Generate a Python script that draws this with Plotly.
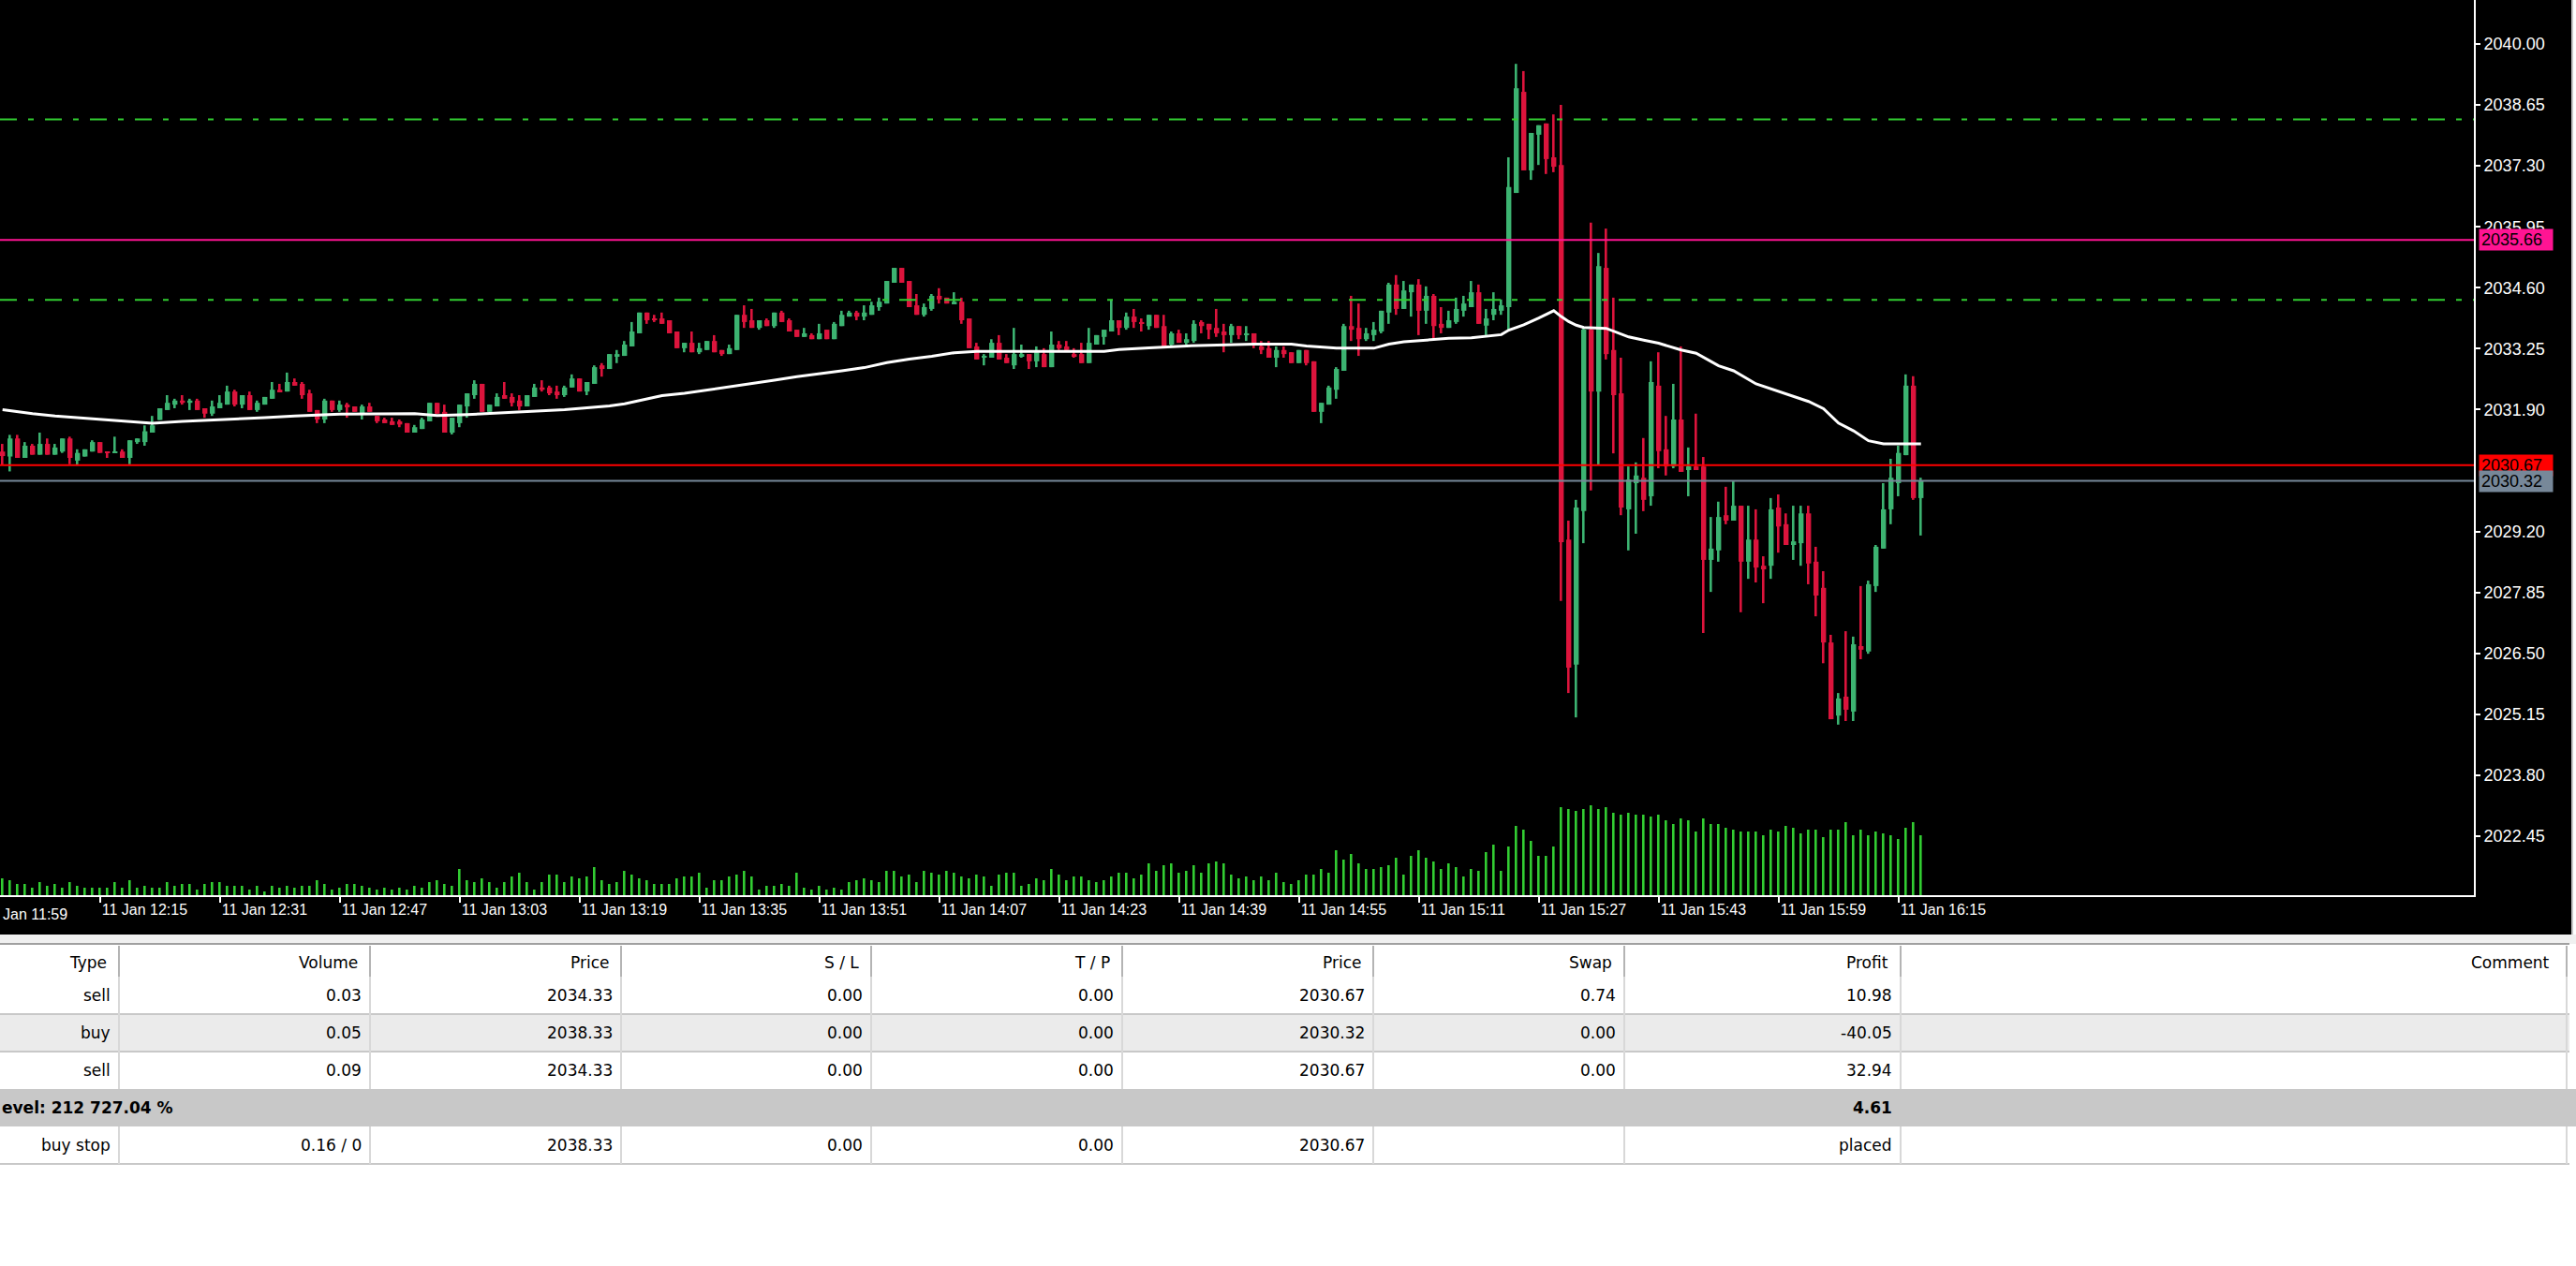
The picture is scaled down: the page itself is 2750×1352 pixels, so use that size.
import plotly.graph_objects as go
import pandas as pd

# ---------------- data ----------------
start_time = "2024-01-11 12:02"   # first visible M1 bar

opens = [
2030.97, 2030.86, 2031.26, 2030.83, 2031.10, 2030.90, 2031.14, 2030.90, 2030.97, 2031.26,
2030.77, 2030.86, 2030.97, 2031.18, 2030.97, 2030.94, 2030.97, 2030.83, 2031.18, 2031.18,
2031.39, 2031.67, 2031.89, 2032.01, 2032.10, 2032.05, 2032.10, 2031.93, 2031.81, 2031.93,
2032.01, 2032.30, 2032.01, 2032.22, 2031.89, 2032.01, 2032.14, 2032.34, 2032.30, 2032.51,
2032.47, 2032.26, 2031.89, 2031.68, 2032.10, 2031.89, 2032.01, 2031.97, 2031.81, 2031.97,
2031.76, 2031.68, 2031.64, 2031.64, 2031.60, 2031.39, 2031.47, 2031.64, 2032.05, 2031.85,
2031.39, 2031.60, 2031.97, 2032.22, 2032.47, 2031.85, 2031.97, 2032.22, 2032.18, 2032.10,
2031.97, 2032.18, 2032.39, 2032.39, 2032.30, 2032.22, 2032.39, 2032.59, 2032.30, 2032.47,
2032.88, 2032.80, 2033.09, 2033.09, 2033.30, 2033.59, 2034.05, 2033.92, 2033.92, 2033.88,
2033.63, 2033.26, 2033.38, 2033.17, 2033.22, 2033.42, 2033.22, 2033.13, 2033.22, 2034.00,
2033.88, 2033.71, 2033.88, 2033.75, 2034.05, 2033.88, 2033.67, 2033.51, 2033.55, 2033.46,
2033.67, 2033.46, 2033.75, 2033.96, 2034.05, 2033.96, 2034.00, 2034.17, 2034.25, 2034.71,
2035.04, 2034.75, 2034.21, 2034.00, 2034.13, 2034.42, 2034.38, 2034.25, 2034.29, 2033.92,
2033.30, 2033.05, 2033.05, 2033.38, 2033.05, 2032.88, 2033.09, 2033.13, 2032.97, 2033.13,
2032.84, 2033.34, 2033.30, 2033.13, 2033.13, 2032.93, 2033.34, 2033.51, 2033.63, 2033.88,
2033.71, 2033.96, 2033.84, 2033.75, 2034.00, 2033.75, 2033.34, 2033.59, 2033.38, 2033.42,
2033.84, 2033.80, 2033.71, 2033.63, 2033.55, 2033.75, 2033.55, 2033.59, 2033.30, 2033.26,
2033.05, 2033.22, 2033.17, 2032.93, 2033.22, 2032.97, 2031.85, 2032.01, 2032.34, 2032.76,
2033.75, 2033.71, 2033.46, 2033.55, 2033.63, 2034.05, 2034.67, 2034.13, 2034.50, 2034.67,
2034.09, 2034.42, 2033.80, 2033.71, 2033.84, 2034.09, 2034.17, 2034.50, 2033.76, 2034.00,
2034.09, 2034.17, 2036.70, 2038.94, 2037.20, 2037.99, 2038.24, 2037.49, 2037.32, 2029.02,
2026.25, 2029.65, 2033.67, 2032.30, 2035.04, 2033.22, 2032.26, 2029.69, 2030.27, 2030.39,
2029.98, 2032.43, 2031.02, 2030.64, 2031.68, 2030.56, 2030.64, 2030.64, 2028.57, 2028.78,
2029.56, 2029.44, 2029.77, 2028.53, 2029.02, 2028.44, 2028.44, 2029.73, 2029.36, 2028.90,
2028.94, 2029.60, 2028.53, 2027.95, 2026.74, 2025.12, 2025.54, 2025.21, 2026.66, 2026.54,
2027.99, 2028.82, 2029.69, 2030.27, 2030.89, 2032.43, 2029.94,
]

highs = [
2031.14, 2031.34, 2031.34, 2031.18, 2031.14, 2031.39, 2031.26, 2031.14, 2031.26, 2031.30,
2031.02, 2031.02, 2031.22, 2031.18, 2030.97, 2031.30, 2031.02, 2031.22, 2031.26, 2031.55,
2031.76, 2031.93, 2032.22, 2032.14, 2032.22, 2032.14, 2032.14, 2031.93, 2032.10, 2032.22,
2032.43, 2032.34, 2032.22, 2032.30, 2032.10, 2032.18, 2032.51, 2032.47, 2032.72, 2032.59,
2032.51, 2032.34, 2031.89, 2032.14, 2032.10, 2032.10, 2032.05, 2031.97, 2032.01, 2032.05,
2031.76, 2031.72, 2031.72, 2031.68, 2031.60, 2031.56, 2031.72, 2032.05, 2032.05, 2032.01,
2031.72, 2032.01, 2032.26, 2032.55, 2032.47, 2032.01, 2032.26, 2032.51, 2032.26, 2032.22,
2032.22, 2032.47, 2032.55, 2032.43, 2032.43, 2032.43, 2032.68, 2032.59, 2032.51, 2032.88,
2032.93, 2033.13, 2033.22, 2033.42, 2033.84, 2034.05, 2034.05, 2034.00, 2034.05, 2033.88,
2033.63, 2033.38, 2033.63, 2033.38, 2033.42, 2033.55, 2033.22, 2033.34, 2034.00, 2034.21,
2034.13, 2033.88, 2033.92, 2034.05, 2034.09, 2033.92, 2033.67, 2033.71, 2033.59, 2033.80,
2033.67, 2033.84, 2034.09, 2034.09, 2034.09, 2034.21, 2034.29, 2034.38, 2034.75, 2035.04,
2035.04, 2034.75, 2034.46, 2034.25, 2034.46, 2034.59, 2034.38, 2034.50, 2034.38, 2033.92,
2033.38, 2033.13, 2033.46, 2033.55, 2033.13, 2033.71, 2033.34, 2033.13, 2033.30, 2033.26,
2033.63, 2033.42, 2033.42, 2033.26, 2033.38, 2033.71, 2033.55, 2033.67, 2034.34, 2033.88,
2034.05, 2034.13, 2033.92, 2034.00, 2034.00, 2034.00, 2033.63, 2033.67, 2033.59, 2033.88,
2033.88, 2033.80, 2034.13, 2033.80, 2033.80, 2033.75, 2033.75, 2033.59, 2033.42, 2033.42,
2033.30, 2033.30, 2033.17, 2033.22, 2033.22, 2032.97, 2032.05, 2032.43, 2032.84, 2033.80,
2034.42, 2034.25, 2033.71, 2033.84, 2034.09, 2034.71, 2034.88, 2034.75, 2034.67, 2034.79,
2034.63, 2034.46, 2034.17, 2034.09, 2034.38, 2034.42, 2034.75, 2034.67, 2034.13, 2034.50,
2034.34, 2037.49, 2039.56, 2039.40, 2038.03, 2038.20, 2038.24, 2038.44, 2038.65, 2029.44,
2029.90, 2033.70, 2036.04, 2035.37, 2035.91, 2034.38, 2033.05, 2030.64, 2030.73, 2031.27,
2032.97, 2033.17, 2031.76, 2032.47, 2033.30, 2031.06, 2031.81, 2030.85, 2029.52, 2029.86,
2030.19, 2030.31, 2029.77, 2029.77, 2029.69, 2028.65, 2029.94, 2030.02, 2029.60, 2029.77,
2029.77, 2029.77, 2028.86, 2028.32, 2026.91, 2025.62, 2026.99, 2026.87, 2027.99, 2028.11,
2028.90, 2030.27, 2030.81, 2031.10, 2032.68, 2032.64, 2030.39,
]

lows = [
2030.67, 2030.53, 2030.83, 2030.83, 2030.90, 2030.90, 2030.90, 2030.90, 2030.94, 2030.69,
2030.66, 2030.86, 2030.97, 2030.94, 2030.83, 2030.94, 2030.83, 2030.69, 2031.14, 2031.10,
2031.39, 2031.67, 2031.89, 2031.93, 2032.01, 2031.89, 2031.89, 2031.72, 2031.76, 2031.93,
2032.01, 2031.97, 2031.93, 2031.89, 2031.85, 2032.01, 2032.14, 2032.30, 2032.30, 2032.43,
2032.14, 2031.85, 2031.60, 2031.60, 2031.85, 2031.85, 2031.72, 2031.85, 2031.68, 2031.85,
2031.60, 2031.60, 2031.56, 2031.51, 2031.39, 2031.39, 2031.47, 2031.64, 2031.81, 2031.39,
2031.35, 2031.51, 2031.72, 2032.14, 2031.85, 2031.85, 2031.97, 2032.14, 2031.97, 2031.89,
2031.97, 2032.18, 2032.30, 2032.22, 2032.14, 2032.18, 2032.39, 2032.30, 2032.22, 2032.47,
2032.63, 2032.80, 2032.93, 2033.09, 2033.30, 2033.59, 2033.80, 2033.84, 2033.80, 2033.59,
2033.26, 2033.17, 2033.17, 2033.13, 2033.22, 2033.17, 2033.09, 2033.13, 2033.22, 2033.71,
2033.71, 2033.67, 2033.75, 2033.71, 2033.84, 2033.63, 2033.51, 2033.51, 2033.46, 2033.46,
2033.46, 2033.46, 2033.75, 2033.96, 2033.88, 2033.88, 2034.00, 2034.09, 2034.25, 2034.71,
2034.71, 2034.17, 2034.00, 2033.96, 2034.09, 2034.25, 2034.25, 2034.25, 2033.80, 2033.26,
2033.01, 2032.88, 2033.05, 2033.01, 2032.93, 2032.80, 2033.05, 2032.80, 2032.84, 2032.84,
2032.84, 2033.22, 2033.22, 2033.05, 2032.93, 2032.93, 2033.34, 2033.34, 2033.63, 2033.55,
2033.67, 2033.71, 2033.63, 2033.67, 2033.71, 2033.30, 2033.30, 2033.38, 2033.34, 2033.38,
2033.59, 2033.46, 2033.51, 2033.17, 2033.38, 2033.46, 2033.42, 2033.26, 2033.13, 2033.05,
2032.84, 2033.05, 2032.93, 2032.93, 2032.88, 2031.85, 2031.60, 2032.01, 2032.14, 2032.76,
2033.42, 2033.09, 2033.42, 2033.42, 2033.59, 2033.80, 2034.00, 2034.13, 2033.96, 2033.55,
2033.80, 2033.46, 2033.59, 2033.71, 2033.80, 2033.96, 2034.17, 2033.80, 2033.55, 2033.88,
2034.00, 2033.67, 2036.70, 2037.20, 2036.99, 2037.32, 2037.12, 2037.16, 2027.66, 2025.62,
2025.08, 2028.94, 2030.11, 2030.68, 2033.01, 2030.93, 2029.56, 2028.78, 2029.15, 2029.65,
2029.77, 2030.60, 2030.44, 2030.60, 2030.52, 2029.98, 2030.56, 2026.95, 2027.86, 2028.53,
2029.36, 2029.44, 2027.41, 2028.15, 2028.07, 2027.61, 2028.15, 2028.73, 2028.90, 2028.57,
2028.44, 2028.03, 2027.32, 2026.28, 2025.04, 2024.92, 2025.00, 2025.00, 2026.37, 2026.49,
2027.86, 2028.82, 2029.36, 2029.98, 2030.89, 2029.90, 2029.11,
]

closes = [
2030.87, 2031.26, 2030.83, 2031.10, 2030.90, 2031.14, 2030.90, 2031.06, 2031.26, 2030.83,
2030.94, 2031.02, 2031.18, 2030.94, 2030.94, 2030.97, 2030.83, 2031.22, 2031.26, 2031.42,
2031.55, 2031.93, 2032.05, 2032.10, 2032.05, 2032.10, 2031.89, 2031.81, 2031.97, 2032.05,
2032.30, 2032.01, 2032.22, 2031.89, 2032.05, 2032.18, 2032.34, 2032.30, 2032.51, 2032.43,
2032.22, 2031.85, 2031.68, 2032.10, 2031.89, 2032.01, 2031.97, 2031.85, 2031.97, 2031.85,
2031.64, 2031.60, 2031.56, 2031.57, 2031.39, 2031.51, 2031.68, 2032.05, 2031.81, 2031.39,
2031.72, 2032.01, 2032.26, 2032.47, 2031.85, 2032.01, 2032.18, 2032.14, 2032.05, 2031.97,
2032.22, 2032.39, 2032.34, 2032.26, 2032.22, 2032.39, 2032.59, 2032.30, 2032.51, 2032.84,
2032.80, 2033.13, 2033.13, 2033.34, 2033.63, 2034.05, 2033.88, 2033.88, 2033.80, 2033.59,
2033.26, 2033.38, 2033.17, 2033.26, 2033.42, 2033.17, 2033.13, 2033.26, 2034.00, 2033.84,
2033.71, 2033.88, 2033.75, 2034.05, 2033.84, 2033.63, 2033.51, 2033.59, 2033.46, 2033.59,
2033.46, 2033.80, 2034.00, 2034.05, 2033.96, 2034.05, 2034.21, 2034.29, 2034.75, 2035.04,
2034.71, 2034.17, 2034.00, 2034.17, 2034.42, 2034.34, 2034.25, 2034.29, 2033.88, 2033.26,
2033.01, 2033.09, 2033.38, 2033.01, 2032.93, 2033.13, 2033.13, 2032.97, 2033.17, 2032.84,
2033.34, 2033.26, 2033.22, 2033.09, 2032.93, 2033.38, 2033.55, 2033.67, 2033.88, 2033.71,
2033.96, 2033.84, 2033.80, 2034.00, 2033.71, 2033.30, 2033.59, 2033.38, 2033.46, 2033.80,
2033.75, 2033.67, 2033.59, 2033.55, 2033.75, 2033.55, 2033.59, 2033.38, 2033.22, 2033.05,
2033.22, 2033.13, 2032.93, 2033.22, 2032.93, 2031.85, 2032.05, 2032.39, 2032.80, 2033.75,
2033.67, 2033.46, 2033.59, 2033.67, 2034.09, 2034.67, 2034.13, 2034.54, 2034.67, 2034.09,
2034.42, 2033.75, 2033.71, 2033.88, 2034.13, 2034.25, 2034.50, 2033.80, 2033.92, 2034.13,
2034.21, 2036.83, 2039.02, 2037.20, 2038.03, 2038.20, 2037.45, 2037.28, 2028.96, 2026.18,
2029.73, 2033.67, 2032.30, 2035.08, 2033.13, 2032.22, 2029.73, 2030.35, 2030.44, 2029.90,
2032.51, 2030.98, 2030.64, 2031.68, 2030.52, 2030.64, 2030.56, 2028.57, 2028.82, 2029.52,
2029.44, 2029.77, 2028.53, 2029.02, 2028.40, 2028.36, 2029.69, 2029.31, 2028.90, 2028.98,
2029.60, 2028.49, 2027.78, 2026.74, 2025.04, 2025.50, 2025.25, 2026.70, 2026.58, 2028.03,
2028.86, 2029.69, 2030.39, 2030.94, 2032.43, 2029.94, 2030.32,
]

volumes = [
54, 48, 36, 36, 24, 42, 30, 36, 24, 42,
30, 24, 24, 24, 24, 42, 24, 48, 24, 30,
24, 24, 42, 30, 36, 36, 18, 36, 42, 42,
30, 30, 30, 18, 30, 12, 30, 24, 30, 24,
30, 30, 48, 36, 18, 24, 36, 36, 30, 24,
18, 24, 18, 24, 18, 30, 24, 42, 48, 36,
30, 84, 48, 42, 54, 42, 24, 42, 60, 72,
42, 18, 42, 66, 66, 42, 60, 54, 60, 90,
48, 36, 42, 78, 66, 54, 48, 36, 36, 36,
54, 60, 60, 72, 24, 48, 48, 60, 66, 78,
60, 18, 30, 30, 36, 30, 72, 24, 18, 30,
18, 24, 18, 42, 48, 54, 48, 42, 78, 78,
60, 66, 42, 78, 72, 66, 78, 72, 60,
54, 66, 60, 30, 66, 72, 72, 30, 36, 54,
48, 84, 66, 48, 60, 60, 48, 42, 48, 60,
72, 72, 54, 66, 102, 78, 96, 102, 72, 78,
96, 72, 102, 108, 102, 66, 54, 60, 48, 60,
48, 72, 42, 36, 48, 66, 66, 84, 72, 144,
114, 132, 102, 84, 84, 90, 96, 120, 66, 126,
144, 120, 108, 84, 102, 90, 60, 84, 78, 138,
162, 78, 156, 222, 210, 174, 126, 126, 156, 282,
276, 270, 276, 288, 276, 282, 264, 258, 264, 258,
258, 252, 258, 240, 228, 246, 240, 204, 246, 228,
228, 216, 210, 204, 204, 204, 192, 210, 204, 222,
216, 198, 210, 210, 186, 210, 210, 234, 192, 210,
192, 204, 198, 192, 180, 216, 234, 192,
]

# moving average (white line), read at these bar numbers
ma_bars = [0, 2, 4, 7, 10, 13, 17, 20, 24, 30, 35, 39, 45, 55, 58, 62, 66, 70, 75, 78,
           81, 83, 85, 88, 91, 94, 97, 100, 103, 106, 109, 112, 115, 118, 121, 124, 127,
           130, 147, 149, 153, 158, 167, 172, 174, 178, 183, 185, 187, 190, 193, 196, 198,
           200, 201, 203, 205, 207, 208, 209, 210, 211, 214, 215, 217, 219, 221, 224, 226,
           229, 231, 234, 236, 239, 241, 243, 245, 247, 249, 251, 256]
ma_values = [2031.90, 2031.85, 2031.81, 2031.76, 2031.72, 2031.68, 2031.64, 2031.60, 2031.64,
             2031.68, 2031.72, 2031.76, 2031.80, 2031.81, 2031.77, 2031.79, 2031.82, 2031.86,
             2031.90, 2031.94, 2031.98, 2032.03, 2032.10, 2032.21, 2032.26, 2032.33, 2032.40,
             2032.48, 2032.55, 2032.63, 2032.69, 2032.76, 2032.83, 2032.94, 2033.02, 2033.08,
             2033.16, 2033.19, 2033.19, 2033.23, 2033.27, 2033.31, 2033.35, 2033.35, 2033.31,
             2033.26, 2033.26, 2033.35, 2033.40, 2033.44, 2033.48, 2033.49, 2033.52, 2033.56,
             2033.66, 2033.78, 2033.93, 2034.09, 2033.96, 2033.85, 2033.77, 2033.72, 2033.70,
             2033.64, 2033.51, 2033.44, 2033.37, 2033.22, 2033.15, 2032.87, 2032.76, 2032.47,
             2032.36, 2032.18, 2032.08, 2031.92, 2031.60, 2031.43, 2031.21, 2031.14, 2031.14]

# horizontal trade levels
order_levels = [2038.33, 2034.33]          # green dash-dot lines
level_pink = 2035.66
ask_price = 2030.67
bid_price = 2030.32

# price scale tick labels (2030.55 sits hidden under the price boxes)
price_ticks = [2022.45, 2023.80, 2025.15, 2026.50, 2027.85, 2029.20,
               2031.90, 2033.25, 2034.60, 2035.95, 2037.30, 2038.65, 2040.00]

# time scale tick labels
time_ticks = ["11 Jan 11:59", "11 Jan 12:15", "11 Jan 12:31", "11 Jan 12:47", "11 Jan 13:03",
              "11 Jan 13:19", "11 Jan 13:35", "11 Jan 13:51", "11 Jan 14:07", "11 Jan 14:23",
              "11 Jan 14:39", "11 Jan 14:55", "11 Jan 15:11", "11 Jan 15:27", "11 Jan 15:43",
              "11 Jan 15:59", "11 Jan 16:15"]

# trade table
table_header = ["Type", "Volume", "Price", "S / L", "T / P", "Price", "Swap", "Profit", "Comment"]
col_type = ["sell", "buy", "sell"]
col_volume = ["0.03", "0.05", "0.09"]
col_price = ["2034.33", "2038.33", "2034.33"]
col_sl = ["0.00", "0.00", "0.00"]
col_tp = ["0.00", "0.00", "0.00"]
col_cur = ["2030.67", "2030.32", "2030.67"]
col_swap = ["0.74", "0.00", "0.00"]
col_profit = ["10.98", "-40.05", "32.94"]
summary_text = "evel: 212 727.04 %"
summary_profit = "4.61"
order_row = ["buy stop", "0.16 / 0", "2038.33", "0.00", "0.00", "2030.67", "", "placed"]

# ---------------- layout geometry (pixels) ----------------
W, H = 2750, 1352
PLOT_R = 2641
PLOT_B = 956
PX_PER_MIN = 8.0
FIRST_BAR_PX = 2.7
PX_PER_PRICE = 48.2
TOP_PRICE = 2040.975

n = len(opens)
assert len(highs) == n and len(lows) == n and len(closes) == n and len(volumes) == n

times = pd.date_range(start_time, periods=n, freq="min")
t0 = times[0]
x_start = t0 - pd.Timedelta(minutes=FIRST_BAR_PX / PX_PER_MIN)
x_end = t0 + pd.Timedelta(minutes=(PLOT_R - FIRST_BAR_PX) / PX_PER_MIN)
ms_per_px = 60000.0 / PX_PER_MIN

year = t0.year
tick_times = [pd.to_datetime(f"{s} {year}", format="%d %b %H:%M %Y") for s in time_ticks]
visible_ticks = [(t, s) for t, s in zip(tick_times, time_ticks) if t >= x_start]
hidden_ticks = [(t, s) for t, s in zip(tick_times, time_ticks) if t < x_start]

y_lo = TOP_PRICE - PLOT_B / PX_PER_PRICE
y_hi = TOP_PRICE

BULL = "#3CB371"
BEAR = "#DC143C"
colors = [BULL if c >= o else BEAR for o, c in zip(opens, closes)]
body_base = [min(o, c) for o, c in zip(opens, closes)]
body_len = [max(abs(c - o), 0.03) for o, c in zip(opens, closes)]
wick_len = [max(h - l, 0.03) for h, l in zip(highs, lows)]


def px2x(px):
    return px / PLOT_R


def px2y(py):
    return 1 - py / PLOT_B


def t2px(t):
    return FIRST_BAR_PX + (t - t0).total_seconds() / 60.0 * PX_PER_MIN


fig = go.Figure()

# volume histogram
vol_max_axis = 288 * PLOT_B / 96.0
fig.add_trace(go.Bar(x=times, y=volumes, yaxis="y2", width=1.8 * ms_per_px,
                     marker=dict(color="#32CD32", line=dict(width=0)), hoverinfo="skip"))
# wicks
fig.add_trace(go.Bar(x=times, y=wick_len, base=lows, width=1.8 * ms_per_px,
                     marker=dict(color=colors, line=dict(width=0)), hoverinfo="skip"))
# bodies
fig.add_trace(go.Bar(x=times, y=body_len, base=body_base, width=5.4 * ms_per_px,
                     marker=dict(color=colors, line=dict(width=0)), hoverinfo="skip"))
# moving average
fig.add_trace(go.Scatter(x=[times[k] for k in ma_bars], y=ma_values, mode="lines",
                         line=dict(color="white", width=3), hoverinfo="skip"))

shapes = []
# lower (terminal) area backgrounds
shapes.append(dict(type="rect", xref="paper", yref="paper", x0=px2x(0), x1=px2x(W),
                   y0=px2y(998), y1=px2y(H), fillcolor="white", line=dict(width=0), layer="below"))
shapes.append(dict(type="rect", xref="paper", yref="paper", x0=px2x(0), x1=px2x(W),
                   y0=px2y(998), y1=px2y(1008), fillcolor="#F0F0F0", line=dict(width=0), layer="below"))
shapes.append(dict(type="rect", xref="paper", yref="paper", x0=px2x(2745), x1=px2x(2747),
                   y0=px2y(0), y1=px2y(998), fillcolor="#C8C8C8", line=dict(width=0), layer="below"))
shapes.append(dict(type="rect", xref="paper", yref="paper", x0=px2x(2747), x1=px2x(W),
                   y0=px2y(0), y1=px2y(998), fillcolor="white", line=dict(width=0), layer="below"))

# horizontal price lines
for lv in order_levels:
    shapes.append(dict(type="line", xref="paper", yref="y", x0=0, x1=1, y0=lv, y1=lv,
                       line=dict(color="#32CD32", width=2, dash="18px,12px,6px,12px"), layer="above"))
shapes.append(dict(type="line", xref="paper", yref="y", x0=0, x1=1, y0=level_pink, y1=level_pink,
                   line=dict(color="#FF1493", width=2), layer="above"))
shapes.append(dict(type="line", xref="paper", yref="y", x0=0, x1=1, y0=ask_price, y1=ask_price,
                   line=dict(color="#FF0000", width=2), layer="above"))
shapes.append(dict(type="line", xref="paper", yref="y", x0=0, x1=1, y0=bid_price, y1=bid_price,
                   line=dict(color="#778899", width=2), layer="above"))

# table geometry
col_edges = [127, 395, 663, 930, 1198, 1466, 1734, 2029, 2740]
hdr_top, hdr_bot = 1008, 1043
row_h = 40
rows_top = [hdr_bot + i * row_h for i in range(5)]
TBL_R = 2743


def hrect(y0, y1, color, x0=0, x1=TBL_R):
    shapes.append(dict(type="rect", xref="paper", yref="paper", x0=px2x(x0), x1=px2x(x1),
                       y0=px2y(y0), y1=px2y(y1), fillcolor=color, line=dict(width=0), layer="below"))


hrect(rows_top[1], rows_top[2], "#EBEBEB")
hrect(rows_top[3], rows_top[4], "#C8C8C8", x1=W)
hrect(hdr_top - 1, hdr_top + 1, "#A0A0A0", x1=TBL_R)
for yy in [rows_top[1], rows_top[2], rows_top[4] + row_h]:
    hrect(yy - 1, yy + 1, "#C8C8C8")
for cx in col_edges:
    hrect(hdr_top + 2, hdr_bot, "#B4B4B4", x0=cx - 1, x1=cx + 1)
    hrect(rows_top[0], rows_top[3], "#D8D8D8", x0=cx - 1, x1=cx + 1)
    hrect(rows_top[4], rows_top[4] + row_h, "#D8D8D8", x0=cx - 1, x1=cx + 1)

annotations = []
TFONT = dict(family="DejaVu Sans", size=17, color="black")


def cell(text, right_px, center_py, bold=False):
    if bold:
        text = "<b>" + text + "</b>"
    annotations.append(dict(xref="paper", yref="paper", x=px2x(right_px), y=px2y(center_py),
                            xanchor="right", yanchor="middle", text=text, showarrow=False,
                            font=TFONT))


for i, h in enumerate(table_header):
    right = col_edges[i] - (16 if i == len(table_header) - 1 else 11)
    cell(h, right, (hdr_top + hdr_bot) / 2 + 2)

row_cols = list(zip(col_type, col_volume, col_price, col_sl, col_tp, col_cur, col_swap, col_profit))
for r, vals in enumerate(row_cols):
    cy = rows_top[r] + row_h / 2
    for i, v in enumerate(vals):
        cell(v, col_edges[i] - 7, cy)

cy_sum = rows_top[3] + row_h / 2
annotations.append(dict(xref="paper", yref="paper", x=px2x(0), y=px2y(cy_sum), xanchor="left",
                        yanchor="middle", text="<b>" + summary_text + "</b>", showarrow=False,
                        font=TFONT))
cell(summary_profit, col_edges[7] - 7, cy_sum, bold=True)

cy_ord = rows_top[4] + row_h / 2
for i, v in enumerate(order_row):
    if v:
        cell(v, col_edges[i] - 7, cy_ord)

# price boxes on the right scale
AFONT = dict(family="Liberation Sans", size=18, color="black")
for price, bg in [(level_pink, "#FF1493"), (ask_price, "#FF0000"), (bid_price, "#778899")]:
    annotations.append(dict(xref="paper", yref="y", x=px2x(2646), y=price, xanchor="left",
                            yanchor="middle", text=f"{price:.2f}", showarrow=False, align="left",
                            width=74, height=18, bgcolor=bg, borderpad=2, font=AFONT))

# time label whose tick lies just left of the visible window (drawn partly cut, as in the terminal)
for t, s in hidden_ticks:
    annotations.append(dict(xref="paper", yref="paper", x=px2x(t2px(t) + 1), y=px2y(976),
                            xanchor="left", yanchor="middle", text=s, showarrow=False,
                            font=dict(family="Liberation Sans", size=16, color="white")))

fig.update_layout(
    width=W, height=H,
    margin=dict(l=0, r=W - PLOT_R, t=0, b=H - PLOT_B, pad=0),
    paper_bgcolor="black", plot_bgcolor="black",
    barmode="overlay", showlegend=False, hovermode=False,
    xaxis=dict(type="date", range=[x_start, x_end], showgrid=False, zeroline=False,
               showline=True, linecolor="white", linewidth=2,
               ticks="outside", ticklen=6, tickwidth=2, tickcolor="white",
               tickmode="array", tickvals=[t for t, _ in visible_ticks],
               ticktext=[s for _, s in visible_ticks], ticklabelposition="outside right",
               tickfont=dict(family="Liberation Sans", size=16, color="white")),
    yaxis=dict(side="right", range=[y_lo, y_hi], showgrid=False, zeroline=False,
               showline=True, linecolor="white", linewidth=2,
               ticks="outside", ticklen=5, tickwidth=2, tickcolor="white",
               tickmode="array", tickvals=price_ticks,
               ticktext=[f"{p:.2f}" for p in price_ticks],
               tickfont=dict(family="Liberation Sans", size=18, color="white")),
    yaxis2=dict(overlaying="y", range=[0, vol_max_axis], visible=False, showgrid=False),
    shapes=shapes, annotations=annotations,
)

fig.write_html("out.html")
